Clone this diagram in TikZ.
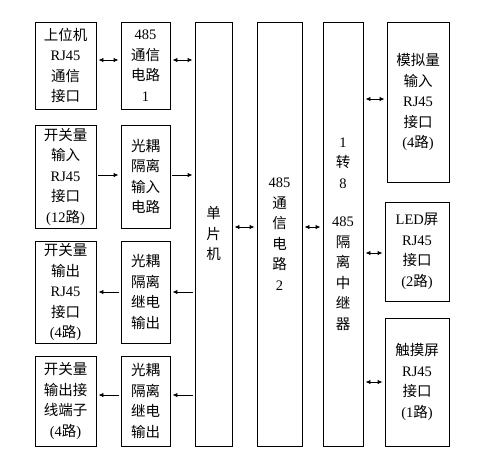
\documentclass[tikz,border=0pt]{standalone}
\usepackage{fontspec}
\setmainfont{Liberation Serif}
\newfontfamily\cjk{Noto Sans CJK SC}
\newcommand{\zh}[1]{{\cjk #1}}
\usepackage{tikz}
\usetikzlibrary{arrows.meta,positioning,calc}
\tikzset{
  blk/.style ={draw,line width=0.9pt,align=center,inner sep=0pt,
               font=\fontsize{14.5}{20.5}\selectfont},
  ar/.style  ={line width=0.9pt,-{Latex[length=5pt,width=4.5pt]},shorten <=2pt,shorten >=2pt},
  bi/.style  ={line width=0.9pt,{Latex[length=5pt,width=4.5pt]}-{Latex[length=5pt,width=4.5pt]},
               shorten <=2pt,shorten >=2pt},
}

\begin{document}
\begin{tikzpicture}[x=1pt,y=-1pt]
  \useasboundingbox (0,0) rectangle (478,464);
  % left column: interfaces
  \node[blk,minimum width=61pt,minimum height=87pt]  (up)   at (65.5,65.5) {\zh{上位机}\\RJ45\\\zh{通信}\\\zh{接口}};
  \node[blk,minimum width=61pt,minimum height=103pt] (din)  at (65.5,176.5) {\zh{开关量}\\\zh{输入}\\RJ45\\\zh{接口}\\(12\zh{路})};
  \node[blk,minimum width=61pt,minimum height=102pt] (dout) at (65.5,292) {\zh{开关量}\\\zh{输出}\\RJ45\\\zh{接口}\\(4\zh{路})};
  \node[blk,minimum width=61pt,minimum height=90pt]  (term) at (65.5,401) {\zh{开关量}\\\zh{输出接}\\\zh{线端子}\\(4\zh{路})};
  % second column: circuits
  \node[blk,minimum width=49pt,minimum height=87pt]  (c485a) at (145.5,65.5) {485\\\zh{通信}\\\zh{电路}\\1};
  \node[blk,minimum width=49pt,minimum height=103pt] (opin)  at (145.5,176.5) {\zh{光耦}\\\zh{隔离}\\\zh{输入}\\\zh{电路}};
  \node[blk,minimum width=49pt,minimum height=102pt] (rly1)  at (145.5,292) {\zh{光耦}\\\zh{隔离}\\\zh{继电}\\\zh{输出}};
  \node[blk,minimum width=49pt,minimum height=90pt]  (rly2)  at (145.5,401) {\zh{光耦}\\\zh{隔离}\\\zh{继电}\\\zh{输出}};
  % tall blocks
  \node[blk,minimum width=37pt,minimum height=424pt] (mcu)   at (213.5,234) {\zh{单}\\\zh{片}\\\zh{机}};
  \node[blk,minimum width=45pt,minimum height=424pt] (c485b) at (279.5,234) {485\\\zh{通}\\\zh{信}\\\zh{电}\\\zh{路}\\2};
  \node[blk,minimum width=40pt,minimum height=424pt] (rep)   at (343,234) {1\\\zh{转}\\8\\[18pt]485\\\zh{隔}\\\zh{离}\\\zh{中}\\\zh{继}\\\zh{器}};
  % right column
  \node[blk,minimum width=62pt,minimum height=160pt] (ain)   at (418,102) {\zh{模拟量}\\\zh{输入}\\RJ45\\\zh{接口}\\(4\zh{路})};
  \node[blk,minimum width=64pt,minimum height=99pt]  (led)   at (417,251.5) {LED\zh{屏}\\RJ45\\\zh{接口}\\(2\zh{路})};
  \node[blk,minimum width=64pt,minimum height=128pt] (touch) at (417,382) {\zh{触摸屏}\\RJ45\\\zh{接口}\\(1\zh{路})};
  % connectors
  \draw[bi] (up.east |- 0,60) -- (c485a.west |- 0,60);
  \draw[bi] (c485a.east |- 0,60) -- (mcu.west |- 0,60);
  \draw[ar] (din.east |- 0,175) -- (opin.west |- 0,175);
  \draw[ar] (opin.east |- 0,175) -- (mcu.west |- 0,175);
  \draw[ar] (mcu.west |- 0,292) -- (rly1.east |- 0,292);
  \draw[ar] (rly1.west |- 0,292) -- (dout.east |- 0,292);
  \draw[ar] (mcu.west |- 0,395) -- (rly2.east |- 0,395);
  \draw[ar] (rly2.west |- 0,395) -- (term.east |- 0,395);
  \draw[bi] (mcu.east |- 0,227) -- (c485b.west |- 0,227);
  \draw[bi] (c485b.east |- 0,227) -- (rep.west |- 0,227);
  \draw[bi] (rep.east |- 0,99) -- (ain.west |- 0,99);
  \draw[bi] (rep.east |- 0,253) -- (led.west |- 0,253);
  \draw[bi] (rep.east |- 0,382) -- (touch.west |- 0,382);
\end{tikzpicture}
\end{document}
